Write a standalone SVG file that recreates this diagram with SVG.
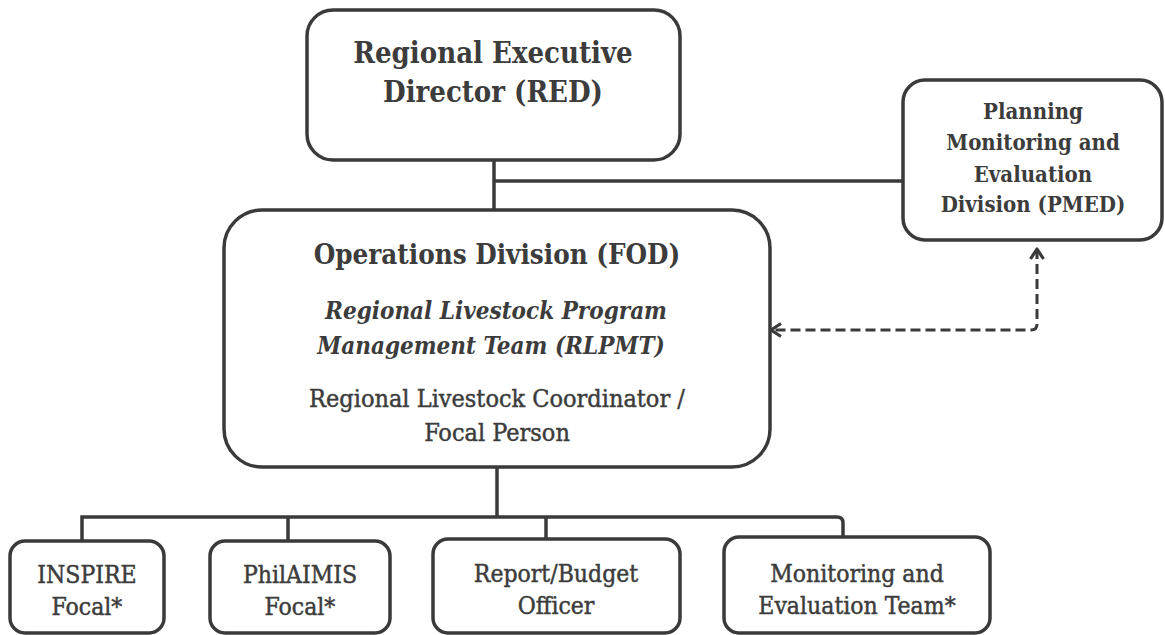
<svg xmlns="http://www.w3.org/2000/svg" width="1165" height="635" viewBox="0 0 1165 635">
<style>
.box{fill:#fff;stroke:#3a3a3a;stroke-width:3.5}
.ln{fill:none;stroke:#3a3a3a;stroke-width:3.5}
.dash{fill:none;stroke:#3a3a3a;stroke-width:3;stroke-dasharray:10 5}
text{font-family:"DejaVu Serif Condensed","DejaVu Serif",serif;fill:#3c3c3c;text-anchor:middle}
.r{stroke:#3c3c3c;stroke-width:0.45}
.b{font-weight:bold}
.i{font-style:italic;font-weight:bold}
</style>
<defs>
<marker id="chev" viewBox="0 0 16 16" refX="13" refY="8" markerWidth="16" markerHeight="16" markerUnits="userSpaceOnUse" orient="auto-start-reverse">
<path d="M3,1.5 L13,8 L3,14.5" fill="none" stroke="#3a3a3a" stroke-width="3.2" stroke-linejoin="round"/>
</marker>
</defs>
<g id="connectors">
<path class="ln" d="M494,160 V210"/>
<path class="ln" d="M494,181 H903"/>
<path class="ln" d="M497,467 V517"/>
<path class="ln" d="M82,541 V517 H837 Q843,517 843,523 V539"/>
<path class="ln" d="M288,517 V541"/>
<path class="ln" d="M546,517 V539"/>
<path class="dash" d="M1037,249 V324 Q1037,330 1031,330 H771" marker-start="url(#chev)" marker-end="url(#chev)"/>
</g>
<g id="red">
<rect class="box" x="307" y="10" width="373" height="150" rx="26"/>
<text class="b" x="493" y="63" font-size="29">Regional Executive</text>
<text class="b" x="493" y="102" font-size="29">Director (RED)</text>
</g>
<g id="pmed">
<rect class="box" x="903" y="80" width="259" height="160" rx="22"/>
<text class="b" x="1033" y="119" font-size="22">Planning</text>
<text class="b" x="1033" y="150" font-size="22">Monitoring and</text>
<text class="b" x="1033" y="182" font-size="22">Evaluation</text>
<text class="b" x="1033" y="212" font-size="22">Division (PMED)</text>
</g>
<g id="fod">
<rect class="box" x="224" y="210" width="546" height="257" rx="38"/>
<text class="b" x="497" y="264" font-size="27.5">Operations Division (FOD)</text>
<text class="i" x="496" y="319" font-size="24">Regional Livestock Program</text>
<text class="i" x="491" y="354" font-size="24">Management Team (RLPMT)</text>
<text class="r" x="497" y="407" font-size="25">Regional Livestock Coordinator /</text>
<text class="r" x="497" y="441" font-size="25">Focal Person</text>
</g>
<g id="inspire">
<rect class="box" x="10" y="541" width="154" height="92" rx="15"/>
<text class="r" x="87" y="583" font-size="24.5">INSPIRE</text>
<text class="r" x="87" y="615" font-size="24.5">Focal*</text>
</g>
<g id="philaimis">
<rect class="box" x="210" y="541" width="180" height="92" rx="15"/>
<text class="r" x="300" y="583" font-size="24.5">PhilAIMIS</text>
<text class="r" x="300" y="615" font-size="24.5">Focal*</text>
</g>
<g id="report">
<rect class="box" x="433" y="539" width="247" height="94" rx="15"/>
<text class="r" x="556" y="582" font-size="24.5">Report/Budget</text>
<text class="r" x="556" y="614" font-size="24.5">Officer</text>
</g>
<g id="mande">
<rect class="box" x="724" y="537" width="266" height="96" rx="15"/>
<text class="r" x="857" y="582" font-size="24.5">Monitoring and</text>
<text class="r" x="857" y="614" font-size="24.5">Evaluation Team*</text>
</g>
</svg>
